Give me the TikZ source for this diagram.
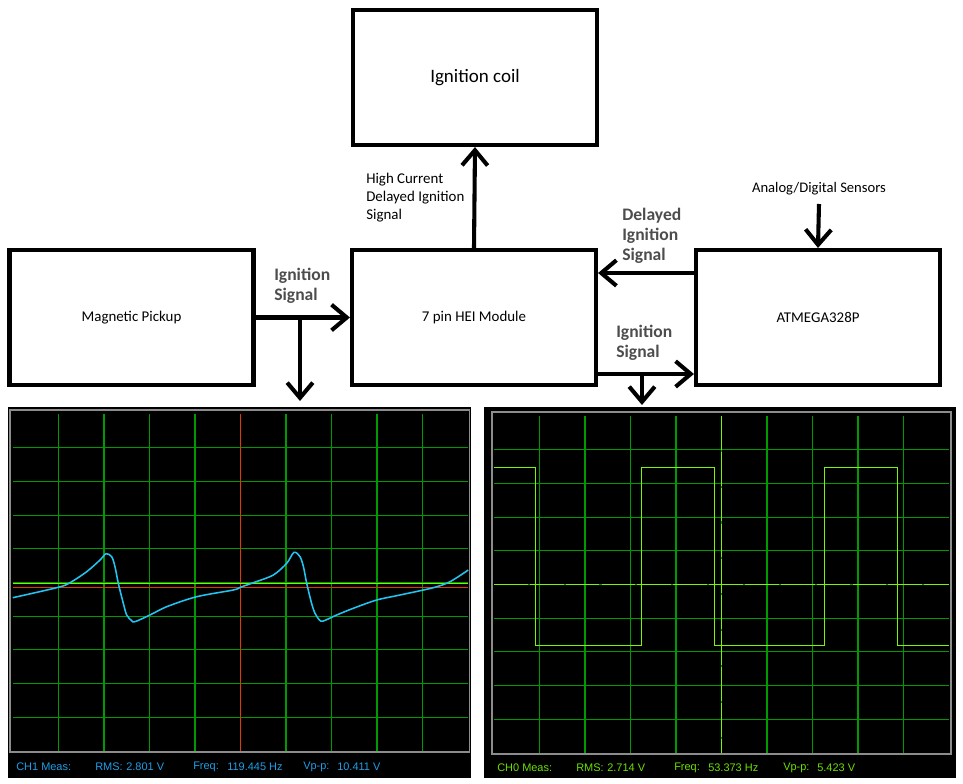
\documentclass[tikz,border=0pt]{standalone}
\usepackage{fontspec}
\setmainfont{Carlito}
\newfontfamily\scopefont{Liberation Sans}
\usetikzlibrary{arrows.meta,positioning}
\definecolor{ink}{HTML}{000000}
\definecolor{labelgray}{HTML}{4D4D4D}
\definecolor{scopegrid}{HTML}{009A00}
\definecolor{scopeframe}{HTML}{8C8C8C}
\definecolor{tracecyan}{HTML}{22C4F2}
\definecolor{textcyan}{HTML}{1E9EE6}
\definecolor{tracelime}{HTML}{7CF500}
\definecolor{textlime}{HTML}{6CE000}
\definecolor{cursorred}{HTML}{E03A00}
\tikzset{
  block/.style={draw=ink,line width=2.9pt,minimum width=6.1cm,minimum height=3.375cm,
    inner sep=0pt,font=\fontsize{10.6}{12}\selectfont},
  sig/.style={ink,line width=2.9pt,-{Straight Barb[length=3.8mm,width=6.4mm]}},
  siglabel/.style={labelgray,font=\bfseries\fontsize{12.5}{14.2}\selectfont,align=left,
    anchor=west,inner sep=0pt},
  note/.style={font=\fontsize{10.6}{12.8}\selectfont,align=left,anchor=west,inner sep=0pt},
  grd/.style={scopegrid,line width=0.75pt},
  meas/.style={font=\scopefont\fontsize{7.8}{9}\selectfont,anchor=west,inner sep=0pt}
}

\begin{document}
\begin{tikzpicture}[x=0.025cm,y=-0.025cm]
  \useasboundingbox (0,0) rectangle (963,784);

  % blocks
  \node[block,font=\fontsize{13.5}{16}\selectfont] (coil) at (475,77.5) {Ignition coil};
  \node[block] (pickup) at (131.5,317.5) {Magnetic Pickup};
  \node[block] (hei) at (474,317.5) {7 pin HEI Module};
  \node[block] (atmega) at (818,317.5) {ATMEGA328P};
  \node[font=\fontsize{10.4}{12}\selectfont] (sens) at (819,189) {Analog/Digital Sensors};

  % signal labels
  \node[note] (hclbl) at (366,198) {High Current\\Delayed Ignition\\Signal};
  \node[siglabel] (inlbl) at (274,286) {Ignition\\Signal};
  \node[siglabel] (dllbl) at (622,236) {Delayed\\Ignition\\Signal};
  \node[siglabel] (outlbl) at (616,343) {Ignition\\Signal};

  % connectors
  \coordinate (tapA) at (300,318);
  \coordinate (probeA) at (300,401);
  \coordinate (tapB) at (642,374);
  \coordinate (probeB) at (642,405);
  \coordinate (fb) at (650,273);
  \draw[sig] (hei.north) -- (coil.south);
  \draw[sig] (pickup.east) -- (hei.west);
  \draw[sig] (tapA) -- (probeA);
  \draw[sig] (atmega.west |- fb) -- (hei.east |- fb);
  \draw[sig] (hei.east |- tapB) -- (atmega.west |- tapB);
  \draw[sig] (tapB) -- (probeB);
  \draw[sig] (sens) ++(0,15) -- (atmega.north);

  % left scope
  \fill[black] (8,407) rectangle (471,778);
  \draw[scopeframe,line width=0.8pt] (10,410) rectangle (469.5,752);
  \foreach \i in {1,...,9} {
    \draw[grd] ({13+45.5*\i},414) -- ({13+45.5*\i},751);
    \draw[grd] (13,{414+33.7*\i}) -- (468,{414+33.7*\i});
  }
  \draw[cursorred,line width=0.75pt] (240.5,414) -- (240.5,751);
  \draw[cursorred,line width=0.55pt] (13,587) -- (468,587);
  \draw[tracelime,line width=0.55pt] (13,583) -- (468,583);
  \draw[tracecyan,line width=1.1pt,smooth,tension=0.5]
    plot coordinates {(12.7,597.7)(58.3,587.3)(70,582.7)(86.7,571.7)(100,560)(106,553.7)
      (111.7,556.7)(115,566.7)(118.3,583.3)(123.3,603.3)(126.7,615)(131.7,620.7)(135,621.7)
      (150,615)(166.7,606.7)(196.7,596.7)(233.3,590)(240.3,587.3)(253.3,582.7)(273.3,575)
      (286.7,563.3)(294,552.3)(300,556.7)(303.5,567)(306.7,583.3)(311.5,603)(315,613.3)
      (319.5,620)(323.3,621)(336.7,615)(353.3,608.3)(376.7,600)(400,595)(433.3,587.7)
      (450,581.7)(468.3,570)};
  \foreach \x/\t in {16/CH1 Meas:,95/RMS:,126/2.801 V,193/Freq:,227/119.445 Hz,303/Vp-p:,337/10.411 V}
    \node[meas,textcyan] (ma\x) at (\x,767) {\t};

  % right scope
  \fill[black] (484,407) rectangle (956,778);
  \draw[scopeframe,line width=0.8pt] (492,412) rectangle (951,754);
  \foreach \i in {1,...,9} {
    \draw[grd] ({494+45.5*\i},416) -- ({494+45.5*\i},753);
    \draw[grd] (494,{416+33.7*\i}) -- (949,{416+33.7*\i});
  }
  \draw[tracelime,line width=0.75pt,dash pattern=on 24pt off 1.5pt] (721.5,416) -- (721.5,753);
  \draw[tracelime,line width=0.75pt,dash pattern=on 24pt off 1.5pt] (494,584.5) -- (949,584.5);
  \draw[tracelime,line width=1.1pt] (494,467.7) -- (535.7,467.7) -- (535.7,645.3) -- (641.3,645.3)
    -- (641.3,467.7) -- (714.7,467.7) -- (714.7,645.3) -- (824.3,645.3) -- (824.3,467.7)
    -- (897.3,467.7) -- (897.3,645.3) -- (949,645.3);
  \foreach \x/\t in {497/CH0 Meas:,576/RMS:,607/2.714 V,674/Freq:,708/53.373 Hz,783/Vp-p:,817/5.423 V}
    \node[meas,textlime] (mb\x) at (\x,768) {\t};
\end{tikzpicture}
\end{document}
